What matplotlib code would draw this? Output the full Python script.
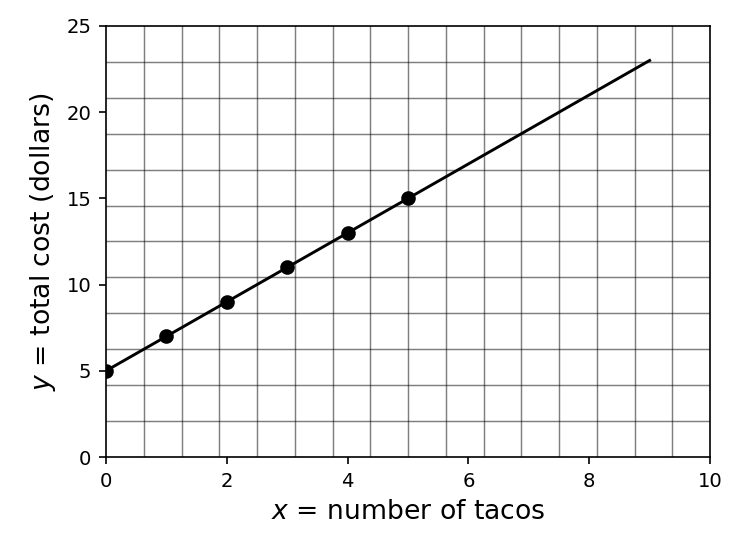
import numpy as np
import matplotlib.pyplot as plt

# taco cost data
tacos = [0, 1, 2, 3, 4, 5]
cost = [5, 7, 9, 11, 13, 15]
line_x = [0, 9]
line_y = [5, 23]

fig = plt.figure(figsize=(743 / 150, 552 / 150), dpi=150)
ax = fig.add_axes([0.1427, 0.1721, 0.8129, 0.7808])

ax.plot(line_x, line_y, color='black', linewidth=1.4)
ax.plot(tacos, cost, 'o', color='black', markersize=6)

ax.set_xlim(0, 10)
ax.set_ylim(0, 25)
ax.set_xticks(np.arange(0, 11, 2))
ax.set_yticks(np.arange(0, 26, 5))
ax.set_xticks(np.linspace(0, 10, 17), minor=True)
ax.set_yticks(np.linspace(0, 25, 13), minor=True)
ax.tick_params(which='minor', length=0)
ax.tick_params(which='major', labelsize=9.4)
ax.grid(which='minor', color='black', alpha=0.5, linewidth=0.7)

ax.set_xlabel('$x$ = number of tacos', fontsize=12.8)
ax.set_ylabel('$y$ = total cost (dollars)', fontsize=12.8)

fig.savefig('out.png', dpi=150)
